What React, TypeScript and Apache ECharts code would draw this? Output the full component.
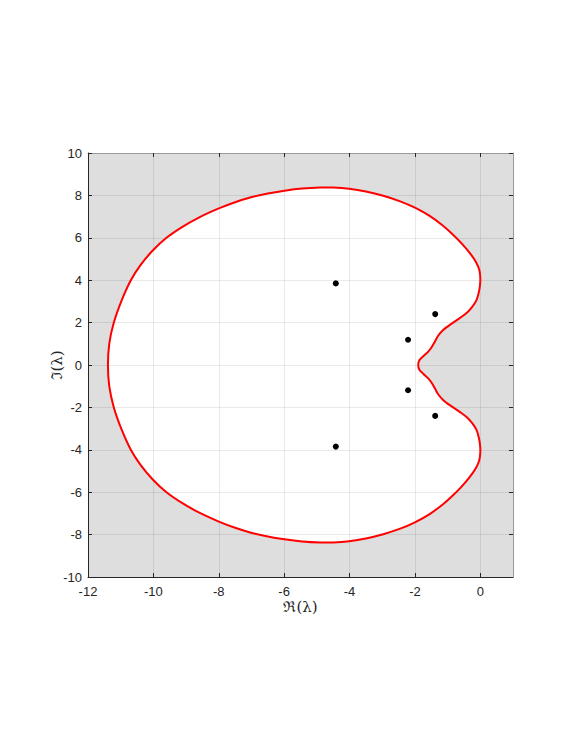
import React, { useEffect, useRef } from 'react';
import * as echarts from 'echarts';

// Boundary of the region (closed curve), real and imaginary parts
const boundaryRe = [
  -1.90, -1.86, -1.74, -1.60, -1.49, -1.39, -1.29, -1.13, -0.90, -0.62,
  -0.42, -0.26, -0.12, -0.05, -0.01, 0.00, -0.03, -0.13, -0.32, -0.58,
  -0.85, -1.15, -1.55, -2.00, -2.45, -2.97, -3.50, -4.01, -4.50, -4.90,
  -5.45, -5.99, -6.50, -7.04, -7.50, -7.98, -8.58, -9.10, -9.60, -10.02,
  -10.40, -10.69, -10.97, -11.21, -11.35, -11.39,
  -11.35, -11.21, -10.97, -10.69, -10.40, -10.02, -9.60, -9.10, -8.58, -7.98,
  -7.50, -7.04, -6.50, -5.99, -5.45, -4.90, -4.50, -4.01, -3.50, -2.97,
  -2.45, -2.00, -1.55, -1.15, -0.85, -0.58, -0.32, -0.13, -0.03, 0.00,
  -0.01, -0.05, -0.12, -0.26, -0.42, -0.62, -0.90, -1.13, -1.29, -1.39,
  -1.49, -1.60, -1.74, -1.86,
];
const boundaryIm = [
  0.00, 0.24, 0.42, 0.62, 0.84, 1.10, 1.38, 1.66, 1.93, 2.22,
  2.45, 2.72, 3.05, 3.40, 3.75, 4.10, 4.48, 4.85, 5.28, 5.75,
  6.17, 6.58, 7.03, 7.42, 7.72, 7.98, 8.18, 8.31, 8.37, 8.37,
  8.32, 8.22, 8.09, 7.90, 7.68, 7.40, 6.98, 6.53, 6.00, 5.40,
  4.70, 4.00, 3.05, 2.00, 1.00, 0.00,
  -1.00, -2.00, -3.05, -4.00, -4.70, -5.40, -6.00, -6.53, -6.98, -7.40,
  -7.68, -7.90, -8.09, -8.22, -8.32, -8.37, -8.37, -8.31, -8.18, -7.98,
  -7.72, -7.42, -7.03, -6.58, -6.17, -5.75, -5.28, -4.85, -4.48, -4.10,
  -3.75, -3.40, -3.05, -2.72, -2.45, -2.22, -1.93, -1.66, -1.38, -1.10,
  -0.84, -0.62, -0.42, -0.24,
];

// Eigenvalues (black dots)
const eigRe = [-4.42, -1.38, -2.21, -2.21, -1.38, -4.42];
const eigIm = [3.85, 2.40, 1.19, -1.19, -2.40, -3.85];

const xTickValues = [-12, -10, -8, -6, -4, -2, 0];
const xName = 'ℜ(λ)';
const yName = 'ℑ(λ)';

export default function App() {
  const ref = useRef<HTMLDivElement>(null);

  useEffect(() => {
    const chart = echarts.init(ref.current!, null, { renderer: 'svg' });
    const curve = boundaryRe.map((x, i) => [x, boundaryIm[i]]);
    const eig = eigRe.map((x, i) => [x, eigIm[i]]);
    const axisColor = '#262626';
    const boxColor = '#9a9a9a';
    const labelFont = { color: axisColor, fontSize: 13, fontFamily: 'Liberation Sans, Arial, sans-serif' };
    const nameFont = { color: axisColor, fontSize: 15, fontFamily: 'DejaVu Serif, Liberation Serif, serif' };
    const splitLine = { show: true, lineStyle: { color: 'rgba(38,38,38,0.1)', width: 1 } };
    const tick = { show: true, inside: true, length: 4, lineStyle: { color: axisColor } };
    const polygonItem = (fill: string, stroke: string, lineWidth: number) =>
      (_params: any, api: any) => ({
        type: 'polygon',
        shape: { points: curve.map((p) => api.coord(p)), smooth: 0.3 },
        style: { fill, stroke, lineWidth },
      });

    chart.setOption({
      animation: false,
      backgroundColor: '#ffffff',
      grid: {
        left: 88, top: 153, right: 69, bottom: 177,
        show: true, backgroundColor: '#dedede', borderWidth: 0,
      },
      xAxis: [
        {
          type: 'value', position: 'bottom', min: -12, max: 1, interval: 2, z: 3,
          axisLine: { show: true, onZero: false, lineStyle: { color: axisColor } },
          axisTick: { ...tick, customValues: xTickValues },
          axisLabel: { ...labelFont, margin: 8, customValues: xTickValues, formatter: (v: number) => String(v) },
          splitLine,
          name: xName, nameLocation: 'middle', nameGap: 22, nameMoveOverlap: false, nameTextStyle: nameFont,
        },
        {
          type: 'value', position: 'top', min: -12, max: 1, interval: 2, z: 3,
          axisLine: { show: true, onZero: false, lineStyle: { color: boxColor } },
          axisTick: { ...tick, customValues: xTickValues },
          axisLabel: { show: false },
          splitLine: { show: false },
        },
      ],
      yAxis: [
        {
          type: 'value', position: 'left', min: -10, max: 10, interval: 2, z: 3,
          axisLine: { show: true, onZero: false, lineStyle: { color: axisColor } },
          axisTick: { ...tick },
          axisLabel: { ...labelFont, margin: 6 },
          splitLine,
          name: yName, nameLocation: 'middle', nameGap: 24, nameRotate: 90, nameMoveOverlap: false, nameTextStyle: nameFont,
        },
        {
          type: 'value', position: 'right', min: -10, max: 10, interval: 2, z: 3,
          axisLine: { show: true, onZero: false, lineStyle: { color: boxColor } },
          axisTick: { ...tick },
          axisLabel: { show: false },
          splitLine: { show: false },
        },
      ],
      series: [
        {
          type: 'custom',
          z: 1,
          silent: true,
          xAxisIndex: 0, yAxisIndex: 0,
          data: [[0, 0]],
          renderItem: polygonItem('#ffffff', 'none', 0),
        },
        {
          type: 'custom',
          z: 5,
          silent: true,
          xAxisIndex: 0, yAxisIndex: 0,
          data: [[0, 0]],
          renderItem: polygonItem('none', '#ff0000', 2),
        },
        {
          type: 'scatter',
          z: 6,
          xAxisIndex: 0, yAxisIndex: 0,
          data: eig,
          symbolSize: 6,
          itemStyle: { color: '#000000', opacity: 1 },
          silent: true,
        },
      ],
    });
    return () => chart.dispose();
  }, []);

  return (
    <div
      ref={ref}
      style={{ position: 'fixed', left: 0, top: 0, width: 582, height: 754 }}
    />
  );
}
